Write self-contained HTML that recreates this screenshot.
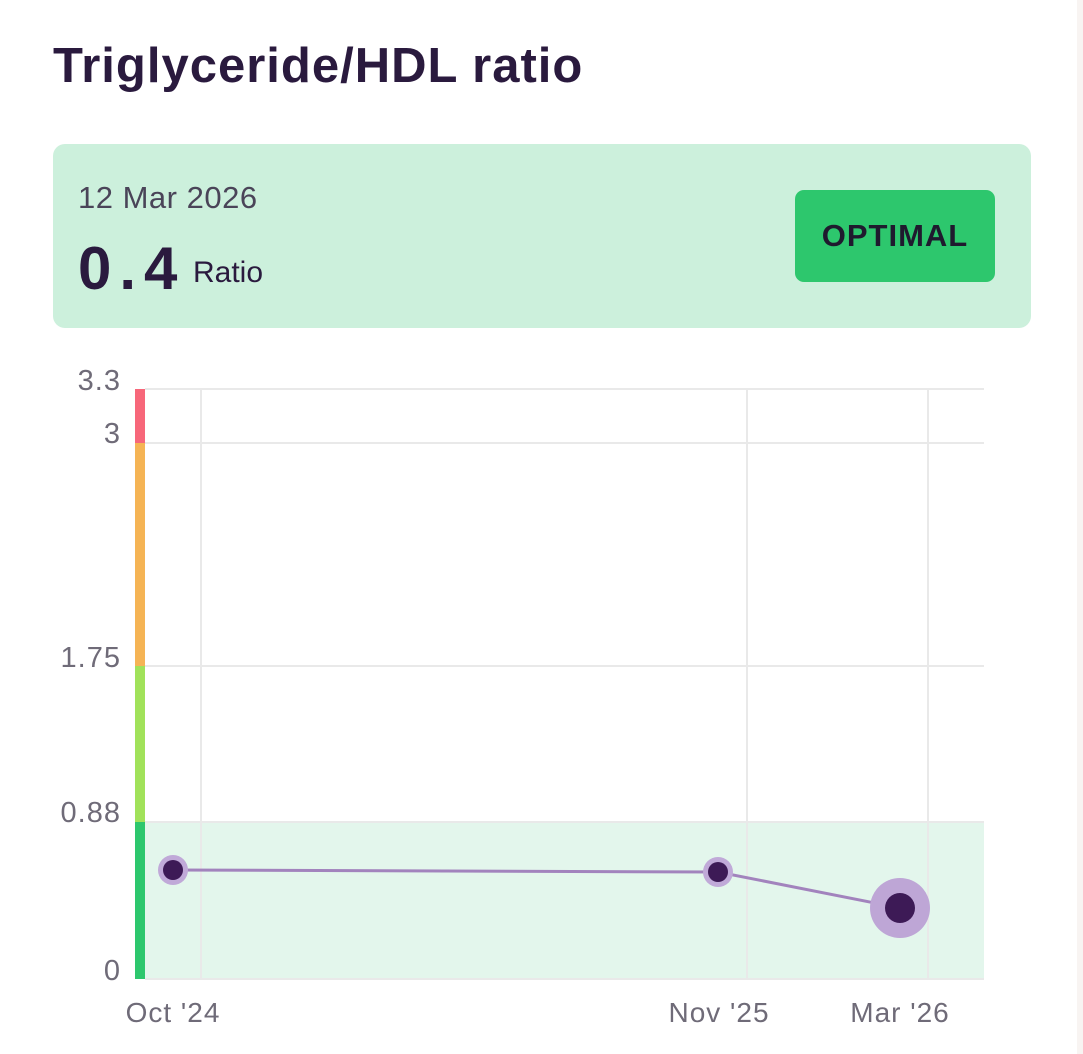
<!DOCTYPE html>
<html><head><style>
body{margin:0;width:1083px;height:1054px;background:#fff;font-family:"Liberation Sans",sans-serif;position:relative;overflow:hidden}
.edge{position:absolute;left:1077px;top:0;width:6px;height:1054px;background:#f8f4f2}
h1{position:absolute;left:53px;top:38px;margin:0;font-size:49px;font-weight:600;color:#2a1a3e;letter-spacing:1px}
.card{position:absolute;left:53px;top:144px;width:978px;height:184px;background:#ccf0dc;border-radius:12px}
.date{position:absolute;left:25px;top:36px;font-size:31px;color:#4a4458;letter-spacing:0.5px}
.val{position:absolute;left:25px;top:90px;font-size:60px;font-weight:bold;color:#2a1a3e;letter-spacing:8px}
.unit{position:absolute;left:140px;top:112px;font-size:30px;color:#2a1a3e}
.badge{position:absolute;left:742px;top:46px;width:200px;height:92px;background:#2dc76d;border-radius:9px;color:#1f1a2e;font-weight:bold;font-size:31px;text-align:center;line-height:92px;letter-spacing:1px}
svg{position:absolute;left:0;top:0}
</style></head><body>
<div class="edge"></div>
<h1>Triglyceride/HDL ratio</h1>
<div class="card"><div class="date">12 Mar 2026</div><div class="val">0.4</div><div class="unit">Ratio</div><div class="badge">OPTIMAL</div></div>
<svg width="1083" height="1054" font-family="Liberation Sans" font-size="28" fill="#6f6b78" letter-spacing="1">
<rect x="145" y="822" width="839" height="157" fill="#e3f6ec"/>
<g stroke="#e9e9e9" stroke-width="2">
<line x1="145" y1="389" x2="984" y2="389"/><line x1="145" y1="443" x2="984" y2="443"/>
<line x1="145" y1="666" x2="984" y2="666"/><line x1="145" y1="822" x2="984" y2="822"/>
<line x1="145" y1="979" x2="984" y2="979"/>
<line x1="201" y1="389" x2="201" y2="979"/><line x1="747" y1="389" x2="747" y2="979"/><line x1="928" y1="389" x2="928" y2="979"/>
</g>
<rect x="135" y="389" width="10" height="54" fill="#f7677a"/>
<rect x="135" y="443" width="10" height="223" fill="#f5b455"/>
<rect x="135" y="666" width="10" height="156" fill="#a1e25a"/>
<rect x="135" y="822" width="10" height="157" fill="#2dc76d"/>
<g text-anchor="end" font-size="29"><text x="121" y="390">3.3</text><text x="121" y="443">3</text><text x="121" y="667">1.75</text><text x="121" y="822">0.88</text><text x="121" y="980">0</text></g>
<g text-anchor="middle"><text x="173" y="1022">Oct '24</text><text x="719" y="1022">Nov '25</text><text x="900" y="1022">Mar '26</text></g>
<polyline points="173,870 718,872 900,908" fill="none" stroke="#a283bd" stroke-width="3"/>
<circle cx="173" cy="870" r="15" fill="#c0a9d8"/><circle cx="173" cy="870" r="10" fill="#3d1a56"/>
<circle cx="718" cy="872" r="15" fill="#c0a9d8"/><circle cx="718" cy="872" r="10" fill="#3d1a56"/>
<circle cx="900" cy="908" r="30" fill="#bea6d6"/><circle cx="900" cy="908" r="15" fill="#3d1a56"/>
</svg>
</body></html>
